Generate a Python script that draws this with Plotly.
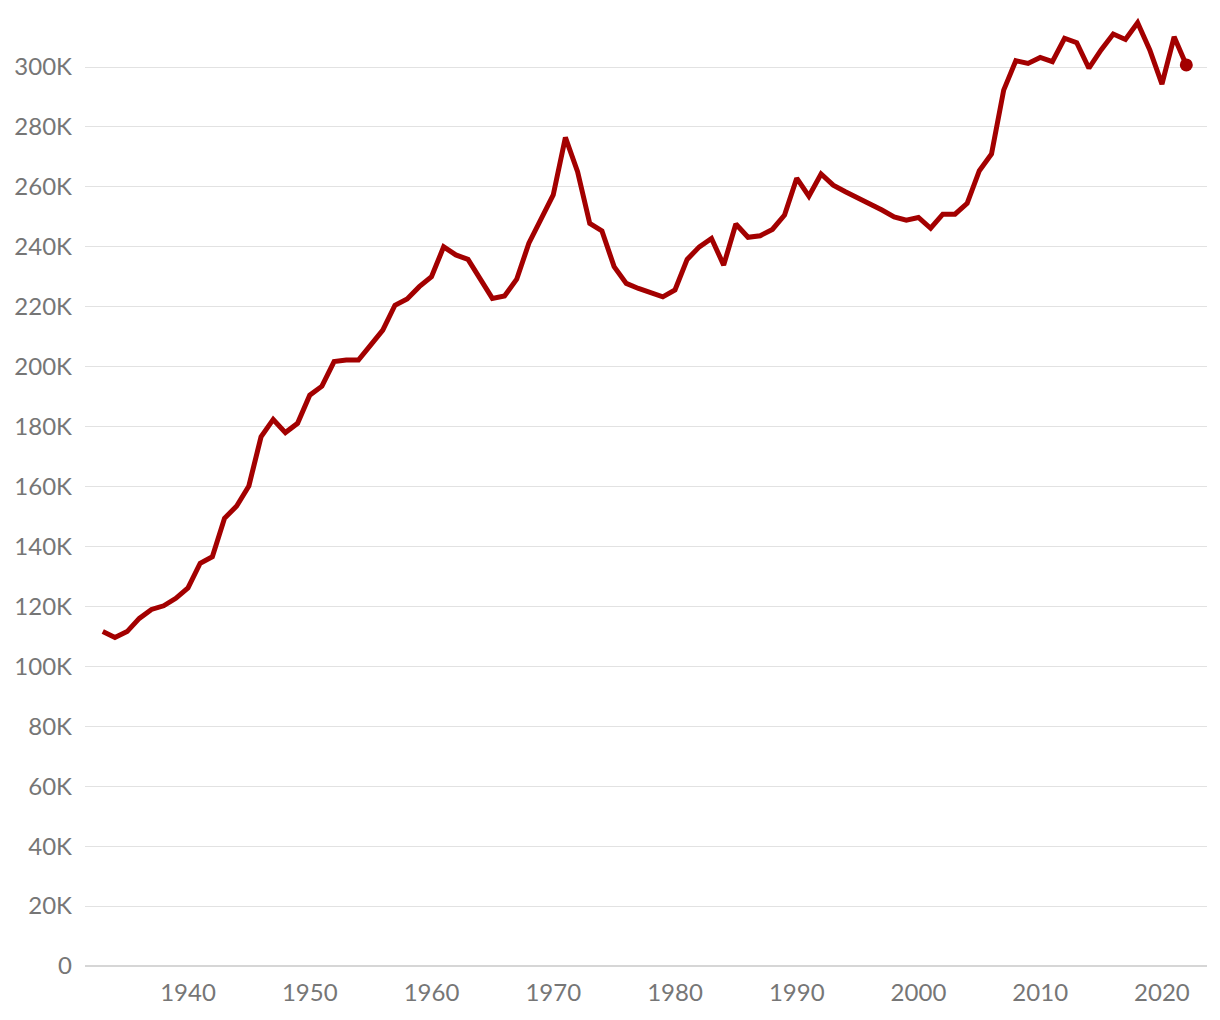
import plotly.graph_objects as go

years = list(range(1933, 2023))
values_k = [
    111.6, 109.6, 111.6, 116.0, 119.0, 120.2, 122.7, 126.2, 134.4, 136.6,  # 1933-1942
    149.4, 153.5, 160.2, 176.6, 182.4, 178.0, 181.1, 190.5, 193.5, 201.7,  # 1943-1952
    202.2, 202.2, 207.2, 212.2, 220.5, 222.6, 226.7, 230.0, 240.0, 237.3,  # 1953-1962
    235.8, 229.5, 222.8, 223.6, 229.2, 241.2, 249.5, 257.3, 276.5, 265.1,  # 1963-1972
    247.8, 245.3, 233.4, 227.8, 226.1, 224.5, 223.3, 225.6, 235.8, 240.0,  # 1973-1982
    242.8, 233.9, 247.6, 243.2, 243.7, 245.8, 250.6, 262.9, 256.9, 264.3,  # 1983-1992
    260.6, 258.4, 256.5, 254.3, 252.3, 250.0, 248.9, 249.8, 246.2, 250.9,  # 1993-2002
    250.9, 254.5, 265.4, 271.0, 292.3, 302.1, 301.2, 303.2, 301.8, 309.6,  # 2003-2012
    308.1, 299.6, 305.7, 311.0, 309.2, 314.8, 305.7, 294.3, 310.1, 300.7,  # 2013-2022
]
values = [v * 1000 for v in values_k]

y_ticks = list(range(0, 300001, 20000))
y_tick_labels = ["0"] + [f"{t // 1000}K" for t in y_ticks[1:]]
x_ticks = list(range(1940, 2021, 10))

RED = "#a30000"

fig = go.Figure()
fig.add_trace(go.Scatter(
    x=years, y=values, mode="lines",
    line=dict(color=RED, width=5),
    hoverinfo="skip", showlegend=False,
))
fig.add_trace(go.Scatter(
    x=[years[-1]], y=[values[-1]], mode="markers",
    marker=dict(color=RED, size=13),
    hoverinfo="skip", showlegend=False,
))

fig.update_layout(
    width=1204, height=1004,
    margin=dict(l=77, r=5, t=0, b=46),
    paper_bgcolor="white", plot_bgcolor="white",
    font=dict(family="Lato, 'Open Sans', sans-serif", size=24, color="#767676"),
    xaxis=dict(
        range=[1931.54, 2023.7],
        tickmode="array", tickvals=x_ticks,
        showgrid=False, zeroline=False, showline=False,
        ticks="", ticklabelstandoff=10,
    ),
    yaxis=dict(
        range=[0, 319700],
        tickmode="array", tickvals=y_ticks, ticktext=y_tick_labels,
        showgrid=True, gridcolor="#e2e2e2", gridwidth=1.3,
        zeroline=True, zerolinecolor="#d6d6d6", zerolinewidth=1.5,
        showline=False, ticks="", ticklabelstandoff=12,
    ),
)

fig.write_html("out.html")
